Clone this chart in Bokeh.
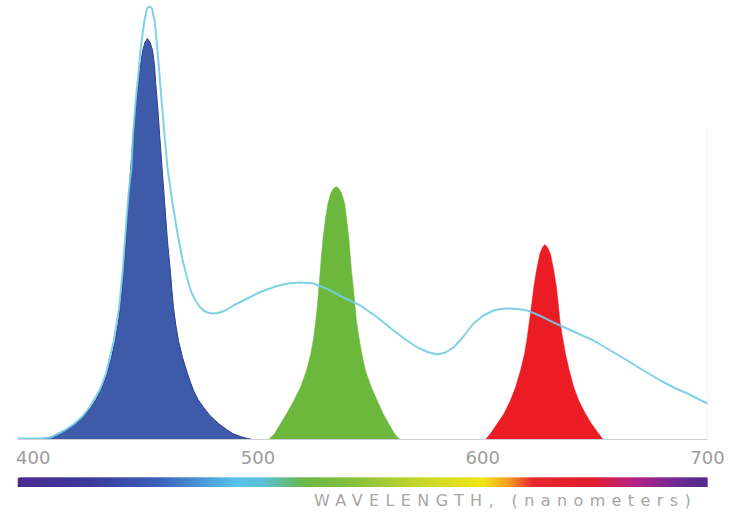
import numpy as np
from bokeh.plotting import figure
from bokeh.layouts import column
from bokeh.models import Range1d, FixedTicker, Div
from bokeh.embed import file_html
from bokeh.resources import INLINE

# ---------------- data (wavelength nm, relative intensity a.u.) ----------------
blue_wl = [403.2, 406.8, 408.6, 411.2, 414.8, 418.8, 422.4, 425.5, 427.9, 429.9, 431.5, 432.8,
           434.8, 436.4, 437.7, 438.7, 439.5, 440.2, 441.3, 442.4, 443.4, 444.6, 445.7, 446.8,
           447.8, 448.7, 449.7, 450.8, 452.0, 453.1, 453.9, 454.5, 455.4, 456.2, 457.3, 458.4,
           459.7, 461.1, 461.7, 462.4, 463.4, 464.6, 466.4, 468.6, 470.0, 471.3, 473.3, 475.8,
           478.6, 482.4, 486.0, 488.7, 492.2, 495.3, 497.6]
blue_val = [0, 1.5, 3, 6, 10, 16, 24, 32, 40, 49, 57, 66,
            82, 99, 115, 132, 149, 166, 199, 239, 272, 306, 332, 356,
            375, 389, 397, 401, 397, 389, 375, 356, 332, 306, 272, 239,
            199, 166, 149, 132, 115, 99, 82, 66, 57, 49, 40, 32,
            24, 16, 10, 6, 3, 1, 0]

green_wl = [504.8, 507.3, 510.0, 512.7, 515.2, 518.9, 521.6, 523.5, 524.8, 525.7, 526.5, 527.1,
            527.7, 528.3, 529.0, 529.9, 531.1, 532.3, 533.5, 534.8, 536.1, 537.3, 538.6, 539.5,
            540.4, 541.0, 541.6, 542.4, 543.1, 543.8, 544.9, 546.2, 547.8, 550.4, 553.7, 555.7,
            558.2, 560.7, 563.1]
green_val = [0, 5.7, 15.7, 25.7, 35.7, 52.3, 69, 85.7, 102.3, 119, 135.7, 152.3,
             169, 185.7, 202.3, 219, 235.7, 245.7, 250.7, 253, 250.7, 245.7, 235.7, 219,
             202.3, 185.7, 169, 152.3, 135.7, 119, 102.3, 85.7, 69, 52.3, 35.7, 25.7,
             15.7, 5.7, 0]

red_wl = [601.2, 603.4, 606.4, 609.4, 612.3, 614.6, 616.8, 618.6, 619.8, 620.8, 621.8, 622.7,
          623.9, 625.4, 626.6, 627.6, 628.8, 630.1, 631.6, 632.8, 633.6, 634.3, 635.5, 636.8,
          638.5, 640.5, 642.7, 645.7, 648.4, 651.6, 653.6]
red_val = [0, 5.7, 15.7, 25.7, 39, 52.3, 69, 85.7, 102.3, 119, 135.7, 152.3,
           169, 185.7, 192.3, 195, 192.3, 185.7, 169, 152.3, 135.7, 119, 102.3, 85.7,
           69, 52.3, 39, 25.7, 15.7, 5.7, 0]

sum_wl = [393.0, 403.2, 407.7, 410.4, 413.9, 417.9, 421.9, 425.0, 429.5, 432.4, 435.9, 438.2,
          439.7, 440.8, 441.5, 442.6, 443.7, 444.4, 445.6, 446.7, 447.7, 448.6, 449.5, 450.6,
          451.7, 452.8, 454.0, 454.6, 455.3, 456.2, 457.1, 458.4, 459.7, 462.0, 464.2, 466.4,
          469.1, 470.4, 472.2, 474.0, 475.8, 477.5, 479.8, 482.4, 485.5, 489.1, 494.4, 501.1,
          507.8, 513.1, 518.9, 524.7, 531.4, 538.0, 545.6, 553.2, 560.3, 565.6, 571.0, 575.4,
          579.9, 583.4, 587.0, 591.4, 595.9, 600.3, 604.8, 607.9, 611.5, 615.5, 619.9, 625.7,
          631.5, 640.4, 649.3, 656.8, 664.4, 671.5, 679.1, 684.9, 691.1, 695.5, 700.0]
sum_val = [1, 1, 2, 5, 9, 15, 23, 32, 49, 66, 99, 132,
           166, 199, 220, 250, 272, 305, 339, 364, 389, 405, 419, 431,
           433, 431, 419, 405, 389, 364, 339, 305, 272, 236, 206, 180,
           156, 147, 139, 133, 129, 127, 126, 126.5, 129, 134, 140, 147.5,
           153, 156, 157, 156, 150, 142, 134, 122, 109, 100, 92, 87.5,
           85, 87, 92, 103, 116, 124, 129, 130.5, 131, 130.5, 129, 123.5,
           117, 108, 99, 89, 79, 69, 59, 52, 46, 41, 36]

x_ticks = [400, 500, 600, 700]
axis_title = "WAVELENGTH, (nanometers)"

# rainbow colour stops for the spectrum bar (style)
rainbow_stop_wl = [393, 425, 455, 490, 502, 520, 545, 573, 600, 612, 622, 648, 668, 688, 700]
rainbow_stop_col = ["#4b2a8f", "#3d3a9e", "#3c5fba", "#58c3ec", "#5cc0d8", "#6bb84a",
                    "#8cc23e", "#c8d82c", "#f3e616", "#f39a26", "#ea2a2e", "#e21e2c",
                    "#b4228a", "#6a2b92", "#552c8e"]

X_MIN, X_MAX = 393, 700
Y_TOP = 439
RIGHT_RULE_TOP = 312

# ---------------- main chart ----------------
W = 730
p = figure(width=W, height=469, x_range=Range1d(X_MIN, X_MAX), y_range=Range1d(0, Y_TOP),
           output_backend="svg", toolbar_location=None, y_axis_type=None,
           min_border_left=17, min_border_right=23, min_border_top=0, min_border_bottom=30)
p.outline_line_color = None
p.grid.visible = False
p.background_fill_color = "white"

p.patch(blue_wl, blue_val, fill_color="#3d5ba9", line_color="#2e3c90", line_width=1)
p.patch(green_wl, green_val, fill_color="#6cb83c", line_color="#6cb83c", line_width=0.5)
p.patch(red_wl, red_val, fill_color="#ec1c24", line_color="#ec1c24", line_width=0.5)
p.line(sum_wl, sum_val, line_color="#72cce6", line_width=2, line_alpha=0.9, line_join="round")
p.segment(x0=[X_MAX], y0=[0], x1=[X_MAX], y1=[RIGHT_RULE_TOP], line_color="#e6e6e6", line_width=1)

xa = p.xaxis[0]
xa.ticker = FixedTicker(ticks=x_ticks)
xa.axis_line_color = "#cfcfd6"
xa.axis_line_width = 1
xa.major_tick_line_color = None
xa.minor_tick_line_color = None
xa.major_tick_out = 0
xa.major_label_standoff = 11
xa.major_label_text_font = "DejaVu Sans"
xa.major_label_text_font_size = "18px"
xa.major_label_text_color = "#9c9c9c"

# ---------------- spectrum bar ----------------
def hex2rgb(h):
    return [int(h[i:i + 2], 16) for i in (1, 3, 5)]

stops_rgb = np.array([hex2rgb(c) for c in rainbow_stop_col], dtype=float)
edges = np.arange(X_MIN, X_MAX, 0.5)
mids = edges + 0.25
cols = []
for m in mids:
    r = np.interp(m, rainbow_stop_wl, stops_rgb[:, 0])
    g = np.interp(m, rainbow_stop_wl, stops_rgb[:, 1])
    b = np.interp(m, rainbow_stop_wl, stops_rgb[:, 2])
    cols.append("#%02x%02x%02x" % (int(r), int(g), int(b)))

bar = figure(width=W, height=18, x_range=p.x_range, y_range=Range1d(0, 1),
             output_backend="svg", toolbar_location=None, x_axis_type=None, y_axis_type=None,
             min_border_left=17, min_border_right=23, min_border_top=8, min_border_bottom=0)
bar.outline_line_color = None
bar.grid.visible = False
bar.quad(left=edges, right=np.minimum(edges + 2.0, X_MAX), bottom=0, top=1,
         fill_color=cols, line_color=None)

label = Div(text=axis_title, width=W, height=30,
            styles={"font-family": "DejaVu Sans", "font-size": "16px",
                    "color": "#a6a6a6", "letter-spacing": "6.4px", "line-height": "18px",
                    "padding-top": "0px", "padding-left": "309px", "white-space": "nowrap"})

layout = column(p, bar, label, spacing=0)
open("out.html", "w").write(file_html(layout, INLINE))
